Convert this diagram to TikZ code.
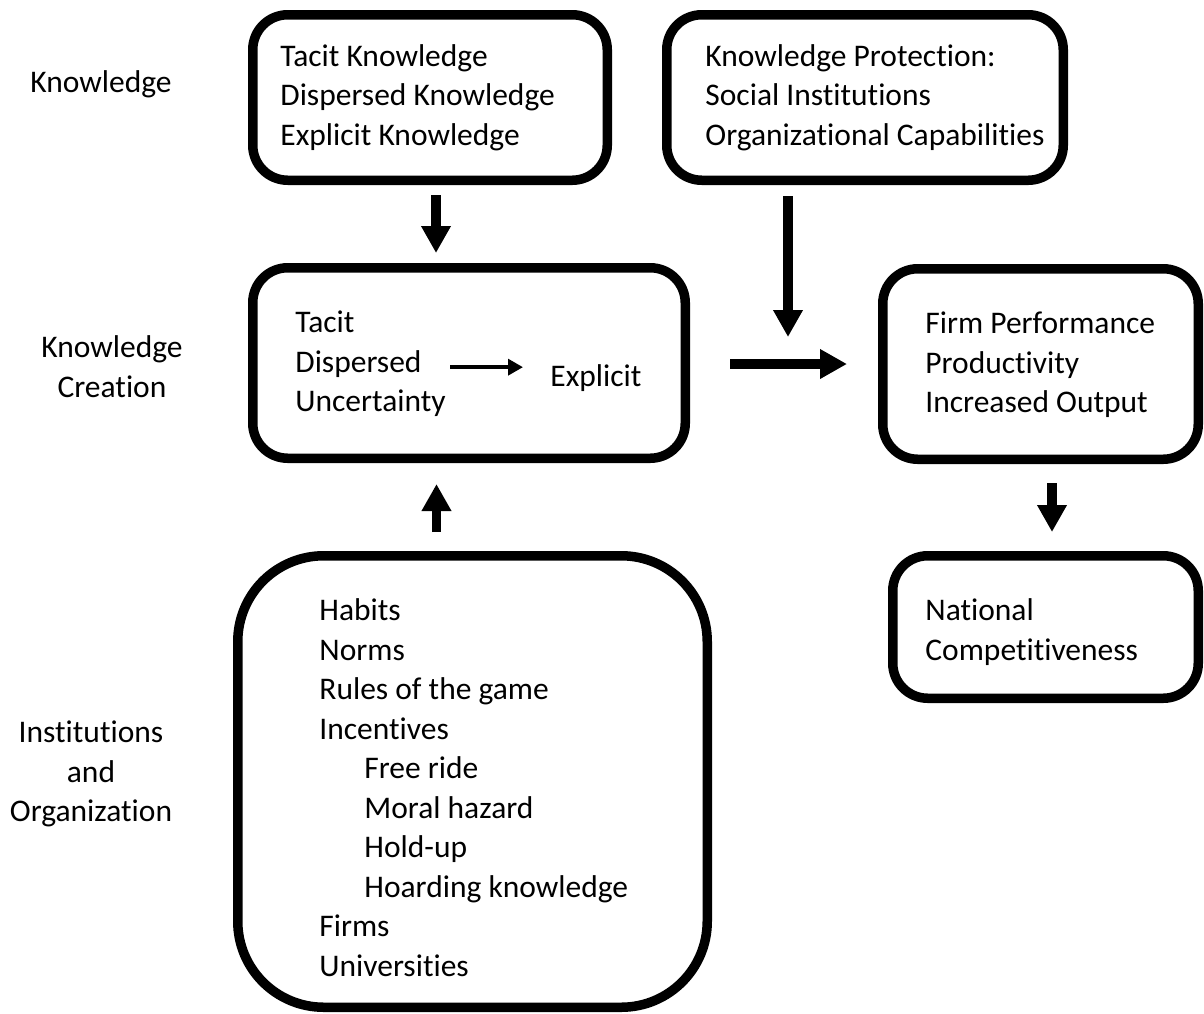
\documentclass[tikz,border=0pt]{standalone}
\usepackage{fontspec}
\setmainfont{Carlito}[Ligatures=NoCommon]
\usetikzlibrary{arrows.meta}
\newcommand\figfont{\fontsize{15.75pt}{19.75pt}\selectfont}
\tikzset{
 panel/.style={draw,line width=4.75pt,inner sep=0pt,rounded corners=17.5pt},
 txt/.style={anchor=north west,inner sep=0pt,align=left,font=\figfont,execute at begin node=\strut},
 side/.style={anchor=north,inner sep=0pt,align=center,font=\figfont,execute at begin node=\strut},
 bigarrow/.style={line width=4.75pt,-{Triangle[width=14pt,length=13.5pt]}},
 smallarrow/.style={line width=1.75pt,-{Triangle[width=8pt,length=7.5pt]}}
}
\begin{document}
\begin{tikzpicture}[x=0.5pt,y=-0.5pt]
 \useasboundingbox (0,0) rectangle (1204,1013);
 \node[side] (lknow) at (101,64.35) {Knowledge};
 \node[side] (lcreate) at (112,335.5) {Knowledge\\Creation};
 \node[side] (linst) at (91,720.5) {Institutions\\and\\Organization};
 \node[panel,minimum width=177.25pt,minimum height=82.75pt] (tk) at (430,97.5) {};
 \node[panel,minimum width=198.25pt,minimum height=82.75pt] (kp) at (865,97.5) {};
 \node[panel,minimum width=216.25pt,minimum height=95.25pt] (kc) at (469,363) {};
 \node[panel,minimum width=157.75pt,minimum height=95.25pt] (fp) at (1040.5,364) {};
 \node[panel,minimum width=152.75pt,minimum height=71.25pt] (nc) at (1045.5,627) {};
 \node[panel,rounded corners=43pt,minimum width=234.75pt,minimum height=225.75pt] (io) at (472.5,781.5) {};
 \node[txt] (tktext) at (280,44) {Tacit Knowledge\\Dispersed Knowledge\\Explicit Knowledge};
 \node[txt] (kptext) at (705,44) {Knowledge Protection:\\Social Institutions\\Organizational Capabilities};
 \node[txt] (kctext) at (295,310.5) {Tacit\\Dispersed\\Uncertainty};
 \node[txt] (expl) at (550,358.5) {Explicit};
 \node[txt] (fptext) at (925,311.5) {Firm Performance\\Productivity\\Increased Output};
 \node[txt] (nctext) at (925,598.5) {National\\Competitiveness};
 \node[txt] (iotext) at (319,598.5) {Habits\\Norms\\Rules of the game\\Incentives\\
  \hspace*{22.5pt}Free ride\\\hspace*{22.5pt}Moral hazard\\\hspace*{22.5pt}Hold-up\\
  \hspace*{22.5pt}Hoarding knowledge\\Firms\\Universities};
 \coordinate (merge) at (788,337);
 \draw[smallarrow,shorten <=2pt,shorten >=13.5pt] (kctext.east) -- (kctext.east -| expl.west);
 \draw[bigarrow,shorten <=5pt,shorten >=5pt] (tk.south -| 436,0) -- (kc.north -| 436,0);
 \draw[bigarrow,shorten <=9.5pt,shorten >=10.5pt] (io.north -| 436.5,0) -- (kc.south -| 436.5,0);
 \draw[bigarrow,shorten <=5.5pt] (kp.south -| merge) -- (merge);
 \draw[bigarrow,shorten <=20pt,shorten >=15.5pt] (kc.east |- fp.west) -- (fp.west);
 \draw[bigarrow,shorten <=9.5pt,shorten >=9.5pt] (fp.south -| 1052,0) -- (nc.north -| 1052,0);
\end{tikzpicture}
\end{document}
